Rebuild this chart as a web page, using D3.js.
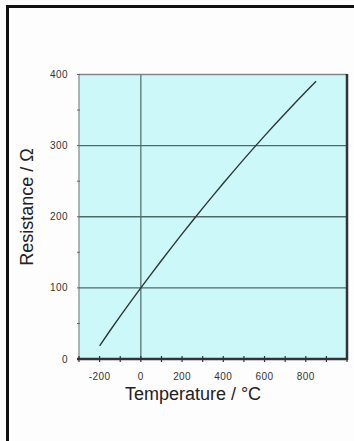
<!DOCTYPE html>
<html>
<head>
<meta charset="utf-8">
<script src="https://cdn.jsdelivr.net/npm/d3@7"></script>
<style>
  html, body { margin: 0; padding: 0; background: #fdfdfd; }
  svg { display: block; }
</style>
</head>
<body>
<div id="host"></div>
<script>
// Pt100 curve
const temps = [-200, -150, -100, -50, 0, 50, 100, 150, 200, 250, 300, 350, 400, 450, 500, 550, 600, 650, 700, 750, 800, 850];
const resist = [18.5, 39.7, 60.3, 80.3, 100, 119.4, 138.5, 157.3, 175.9, 194.1, 212.1, 229.7, 247.1, 264.2, 281.0, 297.5, 313.7, 329.6, 345.3, 360.6, 375.7, 390.5];
const xTickLabels = [-200, 0, 200, 400, 600, 800];
const xMinorTicks = [-300, -200, -100, 0, 100, 200, 300, 400, 500, 600, 700, 800, 900, 1000];
const yTickLabels = [0, 100, 200, 300, 400];
const yMinorTicks = [50, 150, 250, 350];
const hGrid = [100, 200, 300];
const vGrid = [0];

const width = 354;
const height = 441;
const plot = { left: 79, right: 347, top: 74.5, bottom: 359 };

const svg = d3.select('#host')
  .append('svg')
  .attr('width', width)
  .attr('height', height);

// outer frame (top + left only are visible)
svg.append('path')
  .attr('d', `M7.5,${height} L7.5,6.5 L${width},6.5`)
  .attr('fill', 'none')
  .attr('stroke', '#111')
  .attr('stroke-width', 3);

const x = d3.scaleLinear().domain([-300, 1000]).range([plot.left, plot.right]);
const y = d3.scaleLinear().domain([0, 400]).range([plot.bottom, plot.top]);

svg.append('rect')
  .attr('x', plot.left)
  .attr('y', plot.top)
  .attr('width', plot.right - plot.left)
  .attr('height', plot.bottom - plot.top)
  .attr('fill', '#cdf8f9');

// grid
svg.selectAll('line.hgrid')
  .data(hGrid)
  .join('line')
  .attr('class', 'hgrid')
  .attr('x1', plot.left).attr('x2', plot.right)
  .attr('y1', (d) => y(d)).attr('y2', (d) => y(d))
  .attr('stroke', '#4f6868')
  .attr('stroke-width', 1.4);

svg.selectAll('line.vgrid')
  .data(vGrid)
  .join('line')
  .attr('class', 'vgrid')
  .attr('x1', (d) => x(d)).attr('x2', (d) => x(d))
  .attr('y1', plot.top).attr('y2', plot.bottom)
  .attr('stroke', '#4f6868')
  .attr('stroke-width', 1.2);

// top edge + left axis
svg.append('line')
  .attr('x1', plot.left).attr('x2', plot.right)
  .attr('y1', plot.top).attr('y2', plot.top)
  .attr('stroke', '#7d8888').attr('stroke-width', 1.5);
svg.append('line')
  .attr('x1', plot.left).attr('x2', plot.left)
  .attr('y1', plot.top).attr('y2', plot.bottom)
  .attr('stroke', '#7d8888').attr('stroke-width', 1.2);

// y minor ticks
svg.selectAll('line.ytick')
  .data(yMinorTicks.concat(yTickLabels))
  .join('line')
  .attr('class', 'ytick')
  .attr('x1', plot.left - 2).attr('x2', plot.left + 1)
  .attr('y1', (d) => y(d)).attr('y2', (d) => y(d))
  .attr('stroke', '#667').attr('stroke-width', 1);

// right edge + bottom axis (heavier)
svg.append('line')
  .attr('x1', plot.right).attr('x2', plot.right)
  .attr('y1', plot.top - 0.5).attr('y2', plot.bottom + 1)
  .attr('stroke', '#333').attr('stroke-width', 2.5);
svg.append('line')
  .attr('x1', plot.left - 2).attr('x2', plot.right + 1)
  .attr('y1', plot.bottom).attr('y2', plot.bottom)
  .attr('stroke', '#333').attr('stroke-width', 2.5);

svg.selectAll('line.xtick')
  .data(xMinorTicks)
  .join('line')
  .attr('class', 'xtick')
  .attr('x1', (d) => x(d)).attr('x2', (d) => x(d))
  .attr('y1', plot.bottom - 3).attr('y2', plot.bottom + 3)
  .attr('stroke', '#333').attr('stroke-width', 1.2);

// tick labels
svg.selectAll('text.xlab')
  .data(xTickLabels)
  .join('text')
  .attr('class', 'xlab')
  .attr('x', (d) => x(d))
  .attr('y', 380)
  .attr('text-anchor', 'middle')
  .attr('font-family', 'Liberation Sans, Arial, sans-serif')
  .attr('font-size', 10)
  .attr('letter-spacing', 0.4)
  .attr('fill', '#333')
  .text((d) => d);

svg.selectAll('text.ylab')
  .data(yTickLabels)
  .join('text')
  .attr('class', 'ylab')
  .attr('x', 68)
  .attr('y', (d) => y(d) + 3.5)
  .attr('text-anchor', 'end')
  .attr('font-family', 'Liberation Sans, Arial, sans-serif')
  .attr('font-size', 10)
  .attr('letter-spacing', 0.4)
  .attr('fill', '#333')
  .text((d) => d);

// curve
const line = d3.line()
  .x((d, i) => x(temps[i]))
  .y((d) => y(d));

svg.append('path')
  .datum(resist)
  .attr('d', line)
  .attr('fill', 'none')
  .attr('stroke', '#2f3535')
  .attr('stroke-width', 1.4);

// axis titles
svg.append('text')
  .attr('x', 193)
  .attr('y', 400)
  .attr('text-anchor', 'middle')
  .attr('font-family', 'Liberation Sans, Arial, sans-serif')
  .attr('font-size', 18)
  .attr('fill', '#222')
  .text('Temperature / °C');

svg.append('text')
  .attr('transform', 'translate(33,207) rotate(-90)')
  .attr('text-anchor', 'middle')
  .attr('font-family', 'Liberation Sans, Arial, sans-serif')
  .attr('font-size', 18)
  .attr('fill', '#222')
  .text('Resistance / Ω');
</script>
</body>
</html>
